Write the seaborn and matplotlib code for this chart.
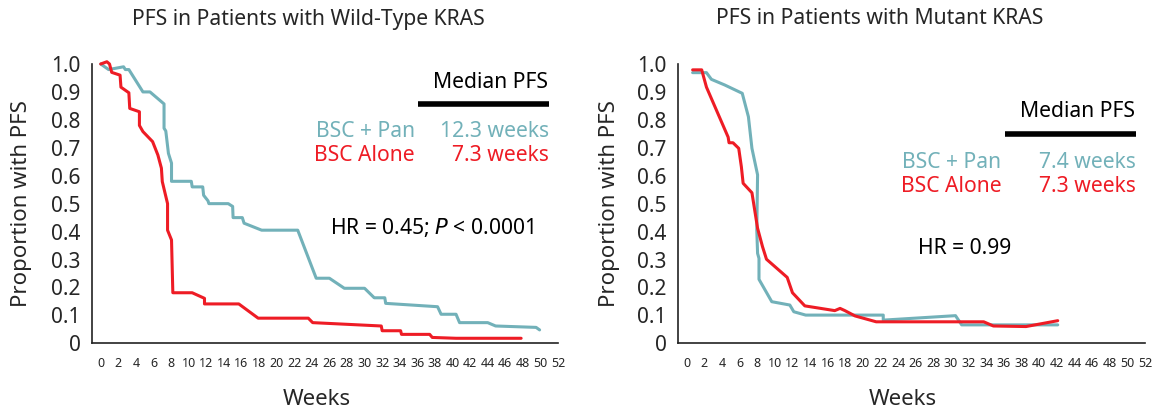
import matplotlib
matplotlib.use("Agg")
import matplotlib.pyplot as plt
import pandas as pd
import seaborn as sns

sns.set_theme(style="white")
plt.rcParams["font.family"] = ["Noto Sans", "DejaVu Sans"]

TEAL = "#72B1B9"
RED = "#EE1C25"

# Wild-type KRAS curves (weeks, proportion progression-free)
wt_pan_weeks = [0.0, 0.9, 2.6, 2.8, 3.2, 4.8, 5.6, 7.2, 7.2, 7.4, 7.7, 8.05, 8.05,
                10.3, 10.4, 11.6, 11.7, 12.2, 12.3, 14.5, 15.0, 15.05, 16.1, 16.3,
                18.3, 22.4, 24.5, 26.0, 27.7, 30.0, 31.1, 32.3, 32.4, 38.3, 38.7,
                40.4, 40.8, 44.0, 44.9, 49.5, 49.9]
wt_pan_prop = [1.0, 0.98, 0.99, 0.98, 0.98, 0.90, 0.90, 0.857, 0.77, 0.76, 0.68,
               0.645, 0.58, 0.58, 0.56, 0.56, 0.53, 0.51, 0.50, 0.50, 0.49, 0.45,
               0.45, 0.43, 0.405, 0.405, 0.233, 0.233, 0.197, 0.197, 0.163, 0.163,
               0.143, 0.131, 0.104, 0.104, 0.074, 0.074, 0.062, 0.057, 0.048]
wt_bsc_weeks = [0.0, 0.7, 1.0, 1.25, 2.2, 2.3, 3.2, 3.3, 4.4, 4.4, 4.8, 5.9, 6.5,
                6.9, 7.0, 7.6, 7.6, 8.05, 8.2, 10.4, 11.8, 11.8, 15.7, 17.9, 23.6,
                24.1, 31.9, 32.0, 34.1, 34.2, 37.4, 37.7, 40.4, 47.8]
wt_bsc_prop = [1.0, 1.008, 1.0, 0.97, 0.96, 0.917, 0.897, 0.841, 0.829, 0.78, 0.758,
               0.722, 0.674, 0.627, 0.579, 0.50, 0.405, 0.37, 0.181, 0.181, 0.161,
               0.141, 0.141, 0.09, 0.09, 0.074, 0.062, 0.045, 0.045, 0.032, 0.032,
               0.021, 0.018, 0.018]

# Mutant KRAS curves
mt_pan_weeks = [0.67, 2.24, 2.8, 4.3, 6.3, 7.0, 7.4, 8.04, 7.95, 8.04, 8.2, 8.2,
                9.65, 11.7, 12.15, 13.5, 22.3, 22.3, 30.5, 31.2, 34.6, 38.9, 42.1]
mt_pan_prop = [0.969, 0.969, 0.945, 0.925, 0.895, 0.811, 0.698, 0.603, 0.405, 0.322,
               0.304, 0.229, 0.149, 0.137, 0.113, 0.101, 0.101, 0.083, 0.099, 0.066,
               0.066, 0.066, 0.066]
mt_bsc_weeks = [0.67, 1.7, 2.24, 4.7, 4.8, 5.25, 5.9, 6.2, 6.4, 7.4, 8.04, 8.6, 9.05,
                11.4, 12.0, 13.4, 16.8, 17.4, 17.95, 19.1, 21.5, 33.7, 34.8, 38.5, 42.1]
mt_bsc_prop = [0.979, 0.979, 0.917, 0.738, 0.718, 0.718, 0.698, 0.632, 0.573, 0.539,
               0.412, 0.346, 0.301, 0.236, 0.181, 0.134, 0.117, 0.125, 0.117, 0.098,
               0.077, 0.077, 0.062, 0.06, 0.081]

y_ticks = [0, 0.1, 0.2, 0.3, 0.4, 0.5, 0.6, 0.7, 0.8, 0.9, 1.0]
y_tick_labels = ["0", "0.1", "0.2", "0.3", "0.4", "0.5", "0.6", "0.7", "0.8", "0.9", "1.0"]
x_ticks = list(range(0, 53, 2))

panels = [
    {
        "title": "PFS in Patients with Wild-Type KRAS",
        "pan": (wt_pan_weeks, wt_pan_prop), "bsc": (wt_bsc_weeks, wt_bsc_prop),
        "median": ("12.3 weeks", "7.3 weeks"), "hr": r"HR = 0.45; $\it{P}$ < 0.0001",
        "rect": [0.0789, 0.1647, 0.4039, 0.70],
        "med_y": 0.932, "bar_y": 0.857, "lab_y": (0.757, 0.671), "hr_xy": (26.1, 0.413),
        "title_x": 308, "title_y": 20, "ylab_x": 22, "weeks_x": 317,
    },
    {
        "title": "PFS in Patients with Mutant KRAS",
        "pan": (mt_pan_weeks, mt_pan_prop), "bsc": (mt_bsc_weeks, mt_bsc_prop),
        "median": ("7.4 weeks", "7.3 weeks"), "hr": "HR = 0.99",
        "rect": [0.5819, 0.1647, 0.4047, 0.70],
        "med_y": 0.829, "bar_y": 0.749, "lab_y": (0.649, 0.563), "hr_xy": (26.3, 0.338),
        "title_x": 880, "title_y": 18, "ylab_x": 609, "weeks_x": 903,
    },
]

W, H = 1165, 411
fig = plt.figure(figsize=(W / 100, H / 100), dpi=100)

for p in panels:
    ax = fig.add_axes(p["rect"])
    df = pd.concat([
        pd.DataFrame({"week": p["pan"][0], "prop": p["pan"][1], "arm": "BSC + Pan"}),
        pd.DataFrame({"week": p["bsc"][0], "prop": p["bsc"][1], "arm": "BSC Alone"}),
    ])
    for arm, color in [("BSC + Pan", TEAL), ("BSC Alone", RED)]:
        sns.lineplot(data=df[df["arm"] == arm], x="week", y="prop", sort=False,
                     estimator=None, color=color, lw=2.2, ax=ax, legend=False)

    ax.set_xlim(-1, 52.5)
    ax.set_ylim(0, 1.03)
    for s in ["top", "right"]:
        ax.spines[s].set_visible(False)
    ax.spines["left"].set_bounds(0, 1)
    ax.spines["bottom"].set_bounds(-1, 52)
    for s in ["left", "bottom"]:
        ax.spines[s].set_color("#222222")
        ax.spines[s].set_linewidth(1.2)
    ax.set_xticks(x_ticks)
    ax.set_xticklabels([str(t) for t in x_ticks], fontsize=9)
    ax.set_yticks(y_ticks)
    ax.set_yticklabels(y_tick_labels, fontsize=15)
    ax.tick_params(axis="both", direction="out", length=6, width=1, color="#222222", pad=2)
    ax.tick_params(axis="x", pad=4)
    ax.set_xlabel("")
    ax.set_ylabel("")

    # median PFS annotation
    fs = 15.2
    ax.text(44.3, p["med_y"], "Median PFS", ha="center", va="center", fontsize=fs, color="black")
    ax.plot([36.1, 51.0], [p["bar_y"], p["bar_y"]], color="black", lw=4, solid_capstyle="butt")
    ax.text(35.7, p["lab_y"][0], "BSC + Pan", ha="right", va="center", fontsize=fs, color=TEAL)
    ax.text(35.7, p["lab_y"][1], "BSC Alone", ha="right", va="center", fontsize=fs, color=RED)
    ax.text(51.0, p["lab_y"][0], p["median"][0], ha="right", va="center", fontsize=fs, color=TEAL)
    ax.text(51.0, p["lab_y"][1], p["median"][1], ha="right", va="center", fontsize=fs, color=RED)
    ax.text(p["hr_xy"][0], p["hr_xy"][1], p["hr"], ha="left", va="center", fontsize=fs, color="black")

    fig.text(p["title_x"] / W, 1 - p["title_y"] / H, p["title"], ha="center", va="center", fontsize=15.2)
    fig.text(p["ylab_x"] / W, 1 - 204 / H, "Proportion with PFS", rotation=90,
             ha="center", va="center", fontsize=16)
    fig.text(p["weeks_x"] / W, 1 - 399 / H, "Weeks", ha="center", va="center", fontsize=16)

fig.savefig("out.png", dpi=100)
